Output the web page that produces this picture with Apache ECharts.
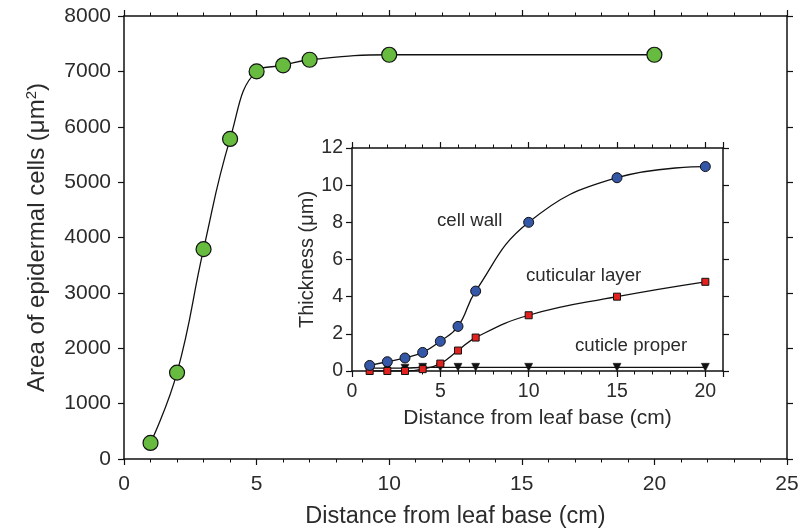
<!DOCTYPE html>
<html>
<head>
<meta charset="utf-8">
<script src="https://cdn.jsdelivr.net/npm/echarts@6/dist/echarts.min.js"></script>
<style>html,body{margin:0;padding:0;background:#fff}#c{width:802px;height:528px}</style>
</head>
<body>
<div id="c"></div>
<script>
// Main chart data
const mainX = [1, 2, 3, 4, 5, 6, 7, 10, 20];
const mainArea = [290, 1560, 3790, 5780, 7000, 7110, 7210, 7300, 7300];
// Inset data
const insetX = [1, 2, 3, 4, 5, 6, 7, 10, 15, 20];
const cellWall = [0.3, 0.5, 0.7, 1.0, 1.6, 2.4, 4.3, 8.0, 10.4, 11.0];
const cuticularLayer = [0, 0, 0, 0.1, 0.4, 1.1, 1.8, 3.0, 4.0, 4.8];
const cuticleProper = [0.15, 0.15, 0.15, 0.2, 0.2, 0.2, 0.2, 0.2, 0.2, 0.2];
const mainXTicks = [0, 5, 10, 15, 20, 25];
const mainYTicks = [0, 1000, 2000, 3000, 4000, 5000, 6000, 7000, 8000];
const insetXTicks = [0, 5, 10, 15, 20];
const insetYTicks = [0, 2, 4, 6, 8, 10, 12];

const zip = (xs, ys) => xs.map((x, i) => [x, ys[i]]);
const FONT = '"Liberation Sans", Arial, sans-serif';
const TXT = '#2b2b2b';
const axLine = { show: true, onZero: false, lineStyle: { color: '#111', width: 1.5 } };

function xAx(gi, min, max, interval, pos, labels, fs, lblMargin) {
  return {
    type: 'value', gridIndex: gi, min, max, interval, position: pos,
    axisLine: axLine,
    axisTick: { show: true, inside: false, length: 6, lineStyle: { color: '#111', width: 1.2 } },
    minorTick: { show: true, splitNumber: 5, length: 3.5, lineStyle: { color: '#111', width: 1 } },
    splitLine: { show: false },
    axisLabel: { show: labels, color: TXT, fontSize: fs, fontFamily: FONT, margin: lblMargin,
      formatter: v => String(v) }
  };
}
function yAx(gi, min, max, interval, pos, labels, fs, lblMargin) {
  return {
    type: 'value', gridIndex: gi, min, max, interval, position: pos,
    axisLine: axLine,
    axisTick: { show: true, inside: false, length: 6, lineStyle: { color: '#111', width: 1.2 } },
    splitLine: { show: false },
    axisLabel: { show: labels, color: TXT, fontSize: fs, fontFamily: FONT, margin: lblMargin,
      formatter: v => String(v) }
  };
}

const mx0 = xAx(0, mainXTicks[0], mainXTicks[mainXTicks.length - 1], 5, 'bottom', true, 21, 15);
mx0.name = 'Distance from leaf base (cm)';
mx0.nameLocation = 'middle';
mx0.nameGap = 46;
mx0.nameTextStyle = { color: TXT, fontSize: 23.5, fontFamily: FONT };
const mx1 = xAx(0, mainXTicks[0], mainXTicks[mainXTicks.length - 1], 5, 'top', false, 21, 8);

const my0 = yAx(0, mainYTicks[0], mainYTicks[mainYTicks.length - 1], 1000, 'left', true, 21, 13);
my0.name = 'Area of epidermal cells (μm{sup|2})';
my0.nameLocation = 'middle';
my0.nameGap = 73;
my0.nameTextStyle = { color: TXT, fontSize: 24, fontFamily: FONT,
  rich: { sup: { fontSize: 15, verticalAlign: 'top', color: TXT, fontFamily: FONT, padding: [0, 0, 12, 0] } } };
const my1 = yAx(0, mainYTicks[0], mainYTicks[mainYTicks.length - 1], 1000, 'right', false, 21, 8);

const ix0 = xAx(1, insetXTicks[0], 21, 5, 'bottom', true, 19.5, 11);
ix0.name = 'Distance from leaf base (cm)';
ix0.nameLocation = 'middle';
ix0.nameGap = 37;
ix0.nameTextStyle = { color: TXT, fontSize: 21, fontFamily: FONT };
ix0.axisLabel.showMaxLabel = false;
ix0.axisLabel.formatter = v => (insetXTicks.indexOf(v) >= 0 ? String(v) : '');
const ix1 = xAx(1, insetXTicks[0], 21, 5, 'top', false, 19.5, 8);

const iy0 = yAx(1, insetYTicks[0], insetYTicks[insetYTicks.length - 1], 2, 'left', true, 19.5, 9);
iy0.name = 'Thickness (μm)';
iy0.nameLocation = 'middle';
iy0.nameGap = 34;
iy0.nameTextStyle = { color: TXT, fontSize: 20, fontFamily: FONT };
const iy1 = yAx(1, insetYTicks[0], insetYTicks[insetYTicks.length - 1], 2, 'right', false, 19.5, 8);

const chart = echarts.init(document.getElementById('c'), null, { renderer: 'canvas' });
chart.setOption({
  backgroundColor: '#fff',
  animation: false,
  grid: [
    { left: 124, right: 15, top: 16, bottom: 69, outerBoundsMode: 'none', containLabel: false },
    { left: 352, right: 79, top: 148, bottom: 157, outerBoundsMode: 'none', containLabel: false,
      show: true, backgroundColor: '#fff', borderWidth: 0 }
  ],
  xAxis: [mx0, mx1, ix0, ix1],
  yAxis: [my0, my1, iy0, iy1],
  graphic: [
    { type: 'text', left: 437, top: 211, style: { text: 'cell wall', fill: TXT, fontSize: 18.7, fontFamily: FONT } },
    { type: 'text', left: 526, top: 266, style: { text: 'cuticular layer', fill: TXT, fontSize: 18.7, fontFamily: FONT } },
    { type: 'text', left: 575, top: 336, style: { text: 'cuticle proper', fill: TXT, fontSize: 18.7, fontFamily: FONT } }
  ],
  series: [
    { type: 'line', xAxisIndex: 0, yAxisIndex: 0, data: zip(mainX, mainArea),
      smooth: 0.45,
      lineStyle: { color: '#111', width: 1.3 },
      symbol: 'circle', symbolSize: 15,
      itemStyle: { color: '#67bb3f', borderColor: '#111', borderWidth: 1.2 }, z: 3 },
    { type: 'line', xAxisIndex: 2, yAxisIndex: 2, data: zip(insetX, cuticleProper),
      smooth: 0.45,
      lineStyle: { color: '#111', width: 1.3 },
      symbol: 'triangle', symbolRotate: 180, symbolSize: 8,
      itemStyle: { color: '#111', borderColor: '#111', borderWidth: 0.5 }, z: 4 },
    { type: 'line', xAxisIndex: 2, yAxisIndex: 2, data: zip(insetX, cuticularLayer),
      smooth: 0.45,
      lineStyle: { color: '#111', width: 1.3 },
      symbol: 'rect', symbolSize: 7,
      itemStyle: { color: '#e3211e', borderColor: '#111', borderWidth: 1 }, z: 5 },
    { type: 'line', xAxisIndex: 2, yAxisIndex: 2, data: zip(insetX, cellWall),
      smooth: 0.45,
      lineStyle: { color: '#111', width: 1.3 },
      symbol: 'circle', symbolSize: 10,
      itemStyle: { color: '#3557a8', borderColor: '#111', borderWidth: 1 }, z: 6 }
  ]
});
</script>
</body>
</html>
